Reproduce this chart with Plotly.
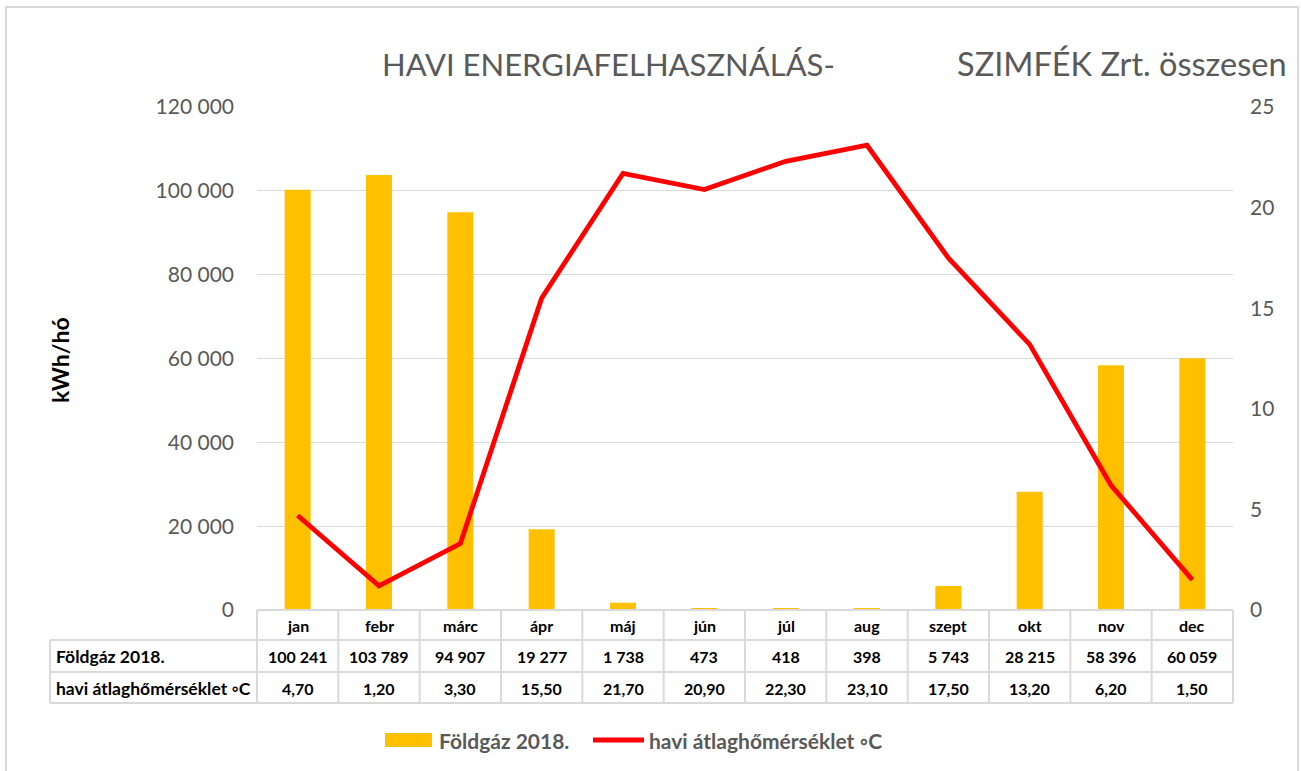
import plotly.graph_objects as go

# Data.
months = ['jan', 'febr', 'márc', 'ápr', 'máj', 'jún', 'júl', 'aug', 'szept', 'okt', 'nov', 'dec']
gas_2018 = [100241, 103789, 94907, 19277, 1738, 473, 418, 398, 5743, 28215, 58396, 60059]
temp_avg = [4.70, 1.20, 3.30, 15.50, 21.70, 20.90, 22.30, 23.10, 17.50, 13.20, 6.20, 1.50]
gas_name = 'Földgáz 2018.'
temp_name = 'havi átlaghőmérséklet ◦C'

W, H = 1301, 771
L, R, T, B = 257, 1233, 107, 610    # plot area in pixels
FONT = 'Lato'
GRAY = '#595959'
LINE = '#d9d9d9'
GAS_COLOR = '#FFC000'
TEMP_COLOR = '#FF0000'


def px(x):
    return (x - L) / (R - L)


def py(y):
    return (B - y) / (B - T)


def fmt_gas(v):
    return f'{v:,}'.replace(',', ' ')


def fmt_temp(v):
    return f'{v:.2f}'.replace('.', ',')


def note(text, x, y, font, xref='paper', xanchor='center', **kw):
    # y is always given in pixels from the top
    return dict(x=x, xref=xref, y=py(y), yref='paper', text=text, xanchor=xanchor, yanchor='middle',
                showarrow=False, font=font, **kw)


fig = go.Figure()
fig.add_trace(go.Bar(x=months, y=gas_2018, name=gas_name, marker_color=GAS_COLOR,
                     marker_line_width=0, width=0.32))
fig.add_trace(go.Scatter(x=months, y=temp_avg, name=temp_name, yaxis='y2', mode='lines',
                         line=dict(color=TEMP_COLOR, width=4.8)))

shapes = []
annotations = []

# Outer chart border.
shapes.append(dict(type='rect', xref='paper', yref='paper', x0=px(6), x1=px(1298), y0=py(800), y1=py(7),
                   line=dict(color=LINE, width=2), layer='below'))

# Data table under the plot.
rows_y = [610, 640, 672, 703]
for i, y in enumerate(rows_y):
    x0 = L if i == 0 else 50
    shapes.append(dict(type='line', xref='paper', yref='paper', x0=px(x0), x1=px(R), y0=py(y), y1=py(y),
                       line=dict(color=LINE, width=2)))
shapes.append(dict(type='line', xref='paper', yref='paper', x0=px(50), x1=px(50), y0=py(640), y1=py(703),
                   line=dict(color=LINE, width=2)))
for k in range(len(months) + 1):
    xk = k / len(months)
    shapes.append(dict(type='line', xref='paper', yref='paper', x0=xk, x1=xk, y0=py(610), y1=py(703),
                       line=dict(color=LINE, width=2)))

cell_font = dict(family=FONT, size=16, color='black')
label_font = dict(family=FONT, size=17.5, color='black')
for m, g, t in zip(months, gas_2018, temp_avg):
    for txt, yc in ((m, 625), (fmt_gas(g), 656), (fmt_temp(t), 688)):
        annotations.append(note('<b>%s</b>' % txt, m, yc, cell_font, xref='x'))
for txt, yc in ((gas_name, 656), (temp_name, 688)):
    annotations.append(note('<b>%s</b>' % txt, px(54), yc, label_font, xanchor='left'))

# Title in two pieces, as in the original.
annotations.append(note('HAVI ENERGIAFELHASZNÁLÁS-', px(380), 64,
                        dict(family=FONT, size=31, color=GRAY), xanchor='left'))
annotations.append(note('SZIMFÉK Zrt. összesen', px(1289), 64,
                        dict(family=FONT, size=32.5, color=GRAY), xanchor='right'))

# Left axis title.
annotations.append(note('<b>kWh/hó</b>', px(60), 360, dict(family=FONT, size=23, color='black'),
                        textangle=-90))

# Legend drawn by hand to get Excel's wide swatches.
legend_font = dict(family=FONT, size=21, color=GRAY)
shapes.append(dict(type='rect', xref='paper', yref='paper', x0=px(385), x1=px(432), y0=py(747), y1=py(733),
                   fillcolor=GAS_COLOR, line=dict(width=0)))
shapes.append(dict(type='line', xref='paper', yref='paper', x0=px(593), x1=px(644), y0=py(740), y1=py(740),
                   line=dict(color=TEMP_COLOR, width=5)))
annotations.append(note('<b>%s</b>' % gas_name, px(437), 740, legend_font, xanchor='left'))
annotations.append(note('<b>%s</b>' % temp_name, px(647), 740, legend_font, xanchor='left'))

fig.update_layout(
    width=W, height=H,
    margin=dict(l=L, r=W - R, t=T, b=H - B),
    paper_bgcolor='white', plot_bgcolor='white',
    separators=', ',
    showlegend=False,
    xaxis=dict(range=[-0.5, 11.5], showticklabels=False, showgrid=False, zeroline=False),
    yaxis=dict(range=[0, 120000], dtick=20000, tickformat=',.0f', showgrid=True, gridcolor=LINE,
               gridwidth=1, zeroline=False, ticklabelstandoff=22,
               tickfont=dict(family=FONT, size=21, color=GRAY)),
    yaxis2=dict(range=[0, 25], dtick=5, overlaying='y', side='right', showgrid=False, zeroline=False,
                ticklabelstandoff=16, tickfont=dict(family=FONT, size=21, color=GRAY)),
    shapes=shapes,
    annotations=annotations,
)

fig.write_html('out.html', config={'displayModeBar': False},
               post_script="document.body.style.margin='0';")
